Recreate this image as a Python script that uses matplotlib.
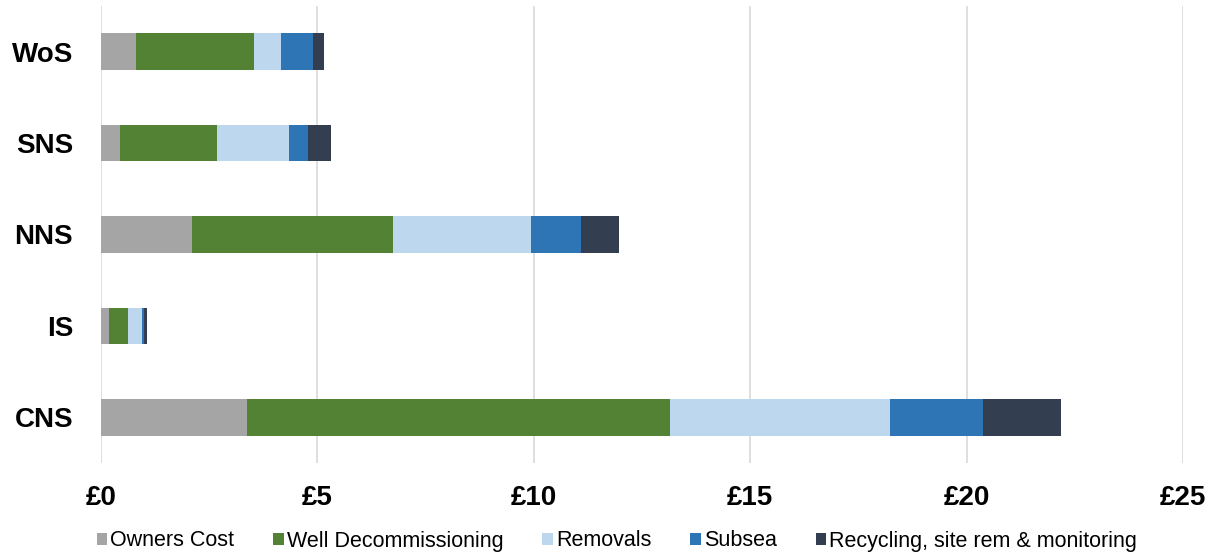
import matplotlib
matplotlib.use("Agg")
import matplotlib.pyplot as plt
import numpy as np

plt.rcParams['font.family'] = ['Liberation Sans', 'DejaVu Sans']

regions = ["CNS", "IS", "NNS", "SNS", "WoS"]
owners_cost = [3.38, 0.18, 2.11, 0.45, 0.82]
well_decom = [9.77, 0.44, 4.63, 2.22, 2.72]
removals = [5.09, 0.32, 3.20, 1.68, 0.62]
subsea = [2.14, 0.06, 1.16, 0.44, 0.73]
recycling = [1.81, 0.07, 0.86, 0.52, 0.27]
series_names = ["Owners Cost", "Well Decommissioning", "Removals", "Subsea",
                "Recycling, site rem & monitoring"]
colors = ["#A5A5A5", "#548235", "#BDD7EE", "#2E75B6", "#333F50"]
xticks = [0, 5, 10, 15, 20, 25]
xtick_labels = ["£0", "£5", "£10", "£15", "£20", "£25"]

fig = plt.figure(figsize=(12.12, 5.53), dpi=100)
ax = fig.add_axes([101/1212, 1-463/553, (1183-101)/1212, (463-6)/553])

y = np.arange(len(regions))
left = np.zeros(len(regions))
for vals, name, c in zip([owners_cost, well_decom, removals, subsea, recycling], series_names, colors):
    ax.barh(y, vals, left=left, height=0.4, color=c, label=name, zorder=3)
    left += np.array(vals)

ax.set_xlim(0, 25)
ax.set_ylim(-0.5, 4.5)
ax.set_yticks(y)
ax.set_yticklabels(regions, fontsize=20, fontweight='bold')
ax.set_xticks(xticks)
ax.set_xticklabels(xtick_labels, fontsize=20, fontweight='bold')
ax.tick_params(axis='both', length=0)
ax.tick_params(axis='y', pad=20)
ax.tick_params(axis='x', pad=16)
for s in ax.spines.values():
    s.set_visible(False)
ax.xaxis.grid(True, color='#D9D9D9', linewidth=1.2, zorder=0)
ax.set_axisbelow(True)

fig.legend(loc='center', bbox_to_anchor=(0.509, 1-541/553), ncol=5, frameon=False,
           fontsize=15.5, handlelength=0.49, handleheight=0.49, handletextpad=0.15,
           columnspacing=1.8, borderaxespad=0)

fig.savefig("out.png", dpi=100)
